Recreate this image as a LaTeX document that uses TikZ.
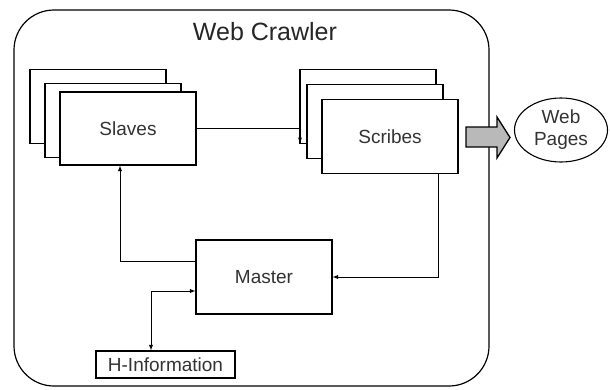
\documentclass[tikz,border=0pt]{standalone}
\usepackage{fontspec}
\setmainfont{Liberation Sans}
\usetikzlibrary{shapes.geometric}
\begin{document}
\begin{tikzpicture}[x=1pt,y=-1pt,>=latex,
		box/.style={draw,line width=1.1pt,fill=white,minimum width=136pt,minimum height=74pt,inner sep=0pt,
			text=black!80,font=\fontsize{19}{22}\selectfont},
		link/.style={line width=0.9pt}]
	\useasboundingbox (0,0) rectangle (610,389);
	\draw[line width=1.2pt, rounded corners=40pt] (14,10) rectangle (489,386);
	\node[text=black!85] (title) at (265,32) {\fontsize{25}{28}\selectfont Web Crawler};

	% slaves stack
	\node[box] (slaves3) at (98,106.5) {};
	\node[box] (slaves2) at (113,120.5) {};
	\node[box,minimum height=73pt] (slaves) at (128,128.5) {Slaves};

	% scribes stack
	\node[box] (scribes3) at (368,106.5) {};
	\node[box] (scribes2) at (375,121.5) {};
	\node[box] (scribes) at (390,136.5) {Scribes};

	\node[box] (master) at (264,277) {Master};
	\node[box,minimum width=139pt,minimum height=27pt] (hinfo) at (165.5,364.5) {H-Information};
	\node[draw,line width=1.1pt,ellipse,minimum width=93pt,minimum height=64pt,inner sep=0pt,align=center,
		text=black!80,font=\fontsize{19}{22}\selectfont] (pages) at (561,130) {Web\\Pages};

	\coordinate (scin) at (300,143);
	\draw[link,->] (slaves.east) -| (scin);
	\draw[link,->] ([yshift=16pt]master.west) -| ([xshift=-8pt]slaves.south);
	\draw[link,->] ([xshift=48pt]scribes.south) |- (master.east);
	\draw[link,<->] ([yshift=-14pt]master.west) -| ([xshift=-14.5pt]hinfo.north);

	% output arrow
	\draw[line width=1.3pt, fill=gray!55] (466,127) -- (497,127) -- (497,117) -- (510,137.5)
		-- (497,158) -- (497,147) -- (466,147) -- cycle;
\end{tikzpicture}
\end{document}
